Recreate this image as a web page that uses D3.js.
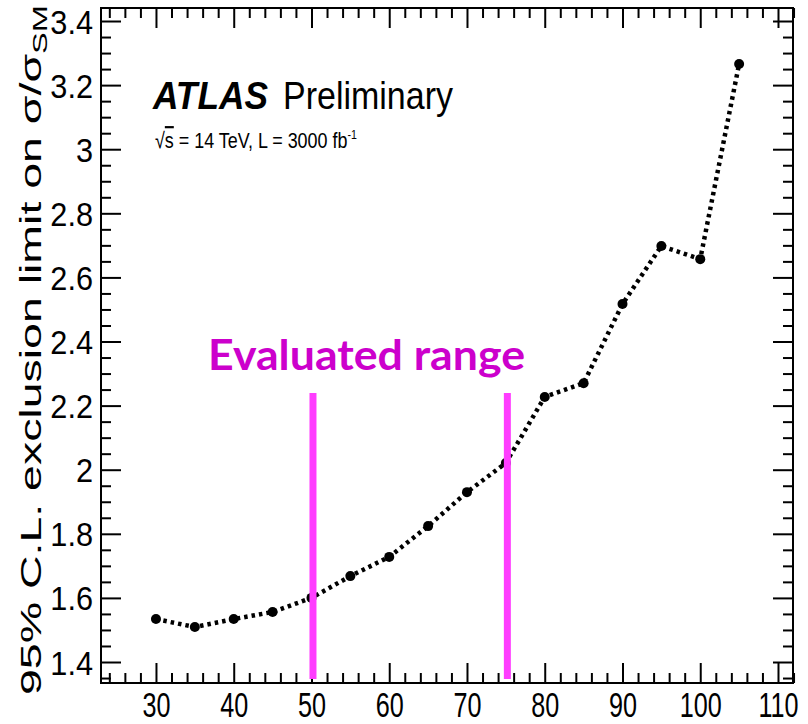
<!DOCTYPE html>
<html>
<head>
<meta charset="utf-8">
<script src="https://cdn.jsdelivr.net/npm/d3@7"></script>
<style>
  body { margin: 0; background: #fff; }
  svg { display: block; }
</style>
</head>
<body>
<svg id="chart" width="808" height="724"></svg>
<script>
// Expected 95% CL limit on the signal strength versus mass
const massPoints  = [30, 35, 40, 45, 50, 55, 60, 65, 70, 75, 80, 85, 90, 95, 100, 105];
const limitValues = [1.534, 1.509, 1.534, 1.556, 1.600, 1.668, 1.728, 1.824, 1.930, 2.021,
                     2.227, 2.270, 2.517, 2.698, 2.657, 3.266];

// Axis tick labels
const xTickValues = [30, 40, 50, 60, 70, 80, 90, 100, 110];
const yTickValues = [1.4, 1.6, 1.8, 2.0, 2.2, 2.4, 2.6, 2.8, 3.0, 3.2, 3.4];

// Highlighted mass window
const rangeBounds = [50, 75];
const rangeLabel  = "Evaluated range";

const svg = d3.select("#chart");
const frame = { left: 101, right: 793, top: 8, bottom: 683 };

const x = d3.scaleLinear().domain([22.93, 111.93]).range([frame.left, frame.right]);
const y = d3.scaleLinear().domain([1.3345, 3.4406]).range([frame.bottom, frame.top]);

const xMinor = d3.range(24, 112.01, 2).filter(v => v % 10 !== 0);
const yMinor = d3.range(1.35, 3.4401, 0.05).map(v => +v.toFixed(2))
                 .filter(v => Math.abs(v * 5 - Math.round(v * 5)) > 1e-6);

const majorLen = 20, minorLen = 10;
const labelFont = "'Liberation Sans', Arial, Helvetica, sans-serif";

function tickLayer(axis, tx, ty) {
  const g = svg.append("g").attr("transform", `translate(${tx},${ty})`).call(axis);
  g.select(".domain").remove();
  g.selectAll(".tick line").attr("stroke", "#000").attr("stroke-width", 2);
  return g;
}

// inward ticks on all four sides
tickLayer(d3.axisBottom(x).tickValues(xMinor).tickSize(-minorLen).tickFormat(""), 0, frame.bottom);
tickLayer(d3.axisTop(x).tickValues(xMinor).tickSize(-minorLen).tickFormat(""), 0, frame.top);
tickLayer(d3.axisTop(x).tickValues(xTickValues).tickSize(-majorLen).tickFormat(""), 0, frame.top);
tickLayer(d3.axisLeft(y).tickValues(yMinor).tickSize(-minorLen).tickFormat(""), frame.left, 0);
tickLayer(d3.axisRight(y).tickValues(yMinor).tickSize(-minorLen).tickFormat(""), frame.right, 0);
tickLayer(d3.axisRight(y).tickValues(yTickValues).tickSize(-majorLen).tickFormat(""), frame.right, 0);

const xAxis = tickLayer(
  d3.axisBottom(x).tickValues(xTickValues).tickSize(-majorLen).tickPadding(0).tickFormat(d3.format("d")),
  0, frame.bottom);
xAxis.selectAll(".tick text")
  .attr("y", 0).attr("dy", 0)
  .attr("transform", "translate(0,34) scale(0.7,1)")
  .style("font-family", labelFont).style("font-size", "36px").attr("fill", "#000");

const yAxis = tickLayer(
  d3.axisLeft(y).tickValues(yTickValues).tickSize(-majorLen).tickPadding(0).tickFormat(d => String(+d.toFixed(1))),
  frame.left, 0);
yAxis.selectAll(".tick text")
  .attr("x", 0).attr("dy", 0)
  .attr("transform", "translate(-8,12) scale(0.93,1)")
  .style("font-family", labelFont).style("font-size", "33px").attr("fill", "#000");

// plot frame
svg.append("rect")
  .attr("x", frame.left).attr("y", frame.top)
  .attr("width", frame.right - frame.left).attr("height", frame.bottom - frame.top)
  .attr("fill", "none").attr("stroke", "#000").attr("stroke-width", 2);

// dotted limit curve with markers
const line = d3.line().x((d, i) => x(massPoints[i])).y(d => y(d));
svg.append("path")
  .datum(limitValues)
  .attr("d", line)
  .attr("fill", "none").attr("stroke", "#000")
  .attr("stroke-width", 4.5).attr("stroke-dasharray", "3.5,4");
svg.append("g").selectAll("circle")
  .data(limitValues)
  .join("circle")
  .attr("cx", (d, i) => x(massPoints[i])).attr("cy", d => y(d))
  .attr("r", 5).attr("fill", "#000");

// mass window markers
svg.append("g").selectAll("line")
  .data(rangeBounds)
  .join("line")
  .attr("x1", d => x(d) + 1.5).attr("x2", d => x(d) + 1.5)
  .attr("y1", 393).attr("y2", 679)
  .attr("stroke", "#ff3dff").attr("stroke-width", 7);

svg.append("text")
  .attr("x", 208).attr("y", 370)
  .attr("textLength", 317).attr("lengthAdjust", "spacingAndGlyphs")
  .style("font-family", "Lato, 'Open Sans', sans-serif")
  .style("font-weight", "bold").style("font-size", "42px")
  .attr("fill", "#cc00cc")
  .text(rangeLabel);

// place a text so it fills a given width, squeezing it horizontally
function fitText(sel, left, baseline, width) {
  const w = sel.node().getComputedTextLength();
  sel.attr("transform", `translate(${left},${baseline}) scale(${width / w},1)`);
}

const atlas = svg.append("text")
  .style("font-family", labelFont).style("font-weight", "bold").style("font-style", "italic")
  .style("font-size", "38px").attr("fill", "#000").text("ATLAS");
fitText(atlas, 153, 109, 115);

const prelim = svg.append("text")
  .style("font-family", labelFont).style("font-size", "38px").attr("fill", "#000").text("Preliminary");
fitText(prelim, 283, 109, 170);

const sub = svg.append("text")
  .style("font-family", labelFont).style("font-size", "22px").attr("fill", "#000");
sub.append("tspan").text("√");
sub.append("tspan").style("text-decoration", "overline").text("s");
sub.append("tspan").text(" = 14 TeV, L = 3000 fb");
sub.append("tspan").attr("dy", -9).style("font-size", "13px").text("-1");
fitText(sub, 155, 148, 202);

// rotated axis title
const titleGroup = svg.append("g");
const ytitle = titleGroup.append("text")
  .attr("text-anchor", "start")
  .style("font-family", labelFont).style("font-size", "40px").attr("fill", "#000");
ytitle.append("tspan").text("95% C.L. exclusion limit on σ/σ");
ytitle.append("tspan").attr("dy", 9).style("font-size", "28px").text("SM");
const titleLen = ytitle.node().getBBox().width;
const along = 690 / titleLen;
titleGroup.attr("transform", `translate(41,695) scale(0.72,${along}) rotate(-90)`);
</script>
</body>
</html>
